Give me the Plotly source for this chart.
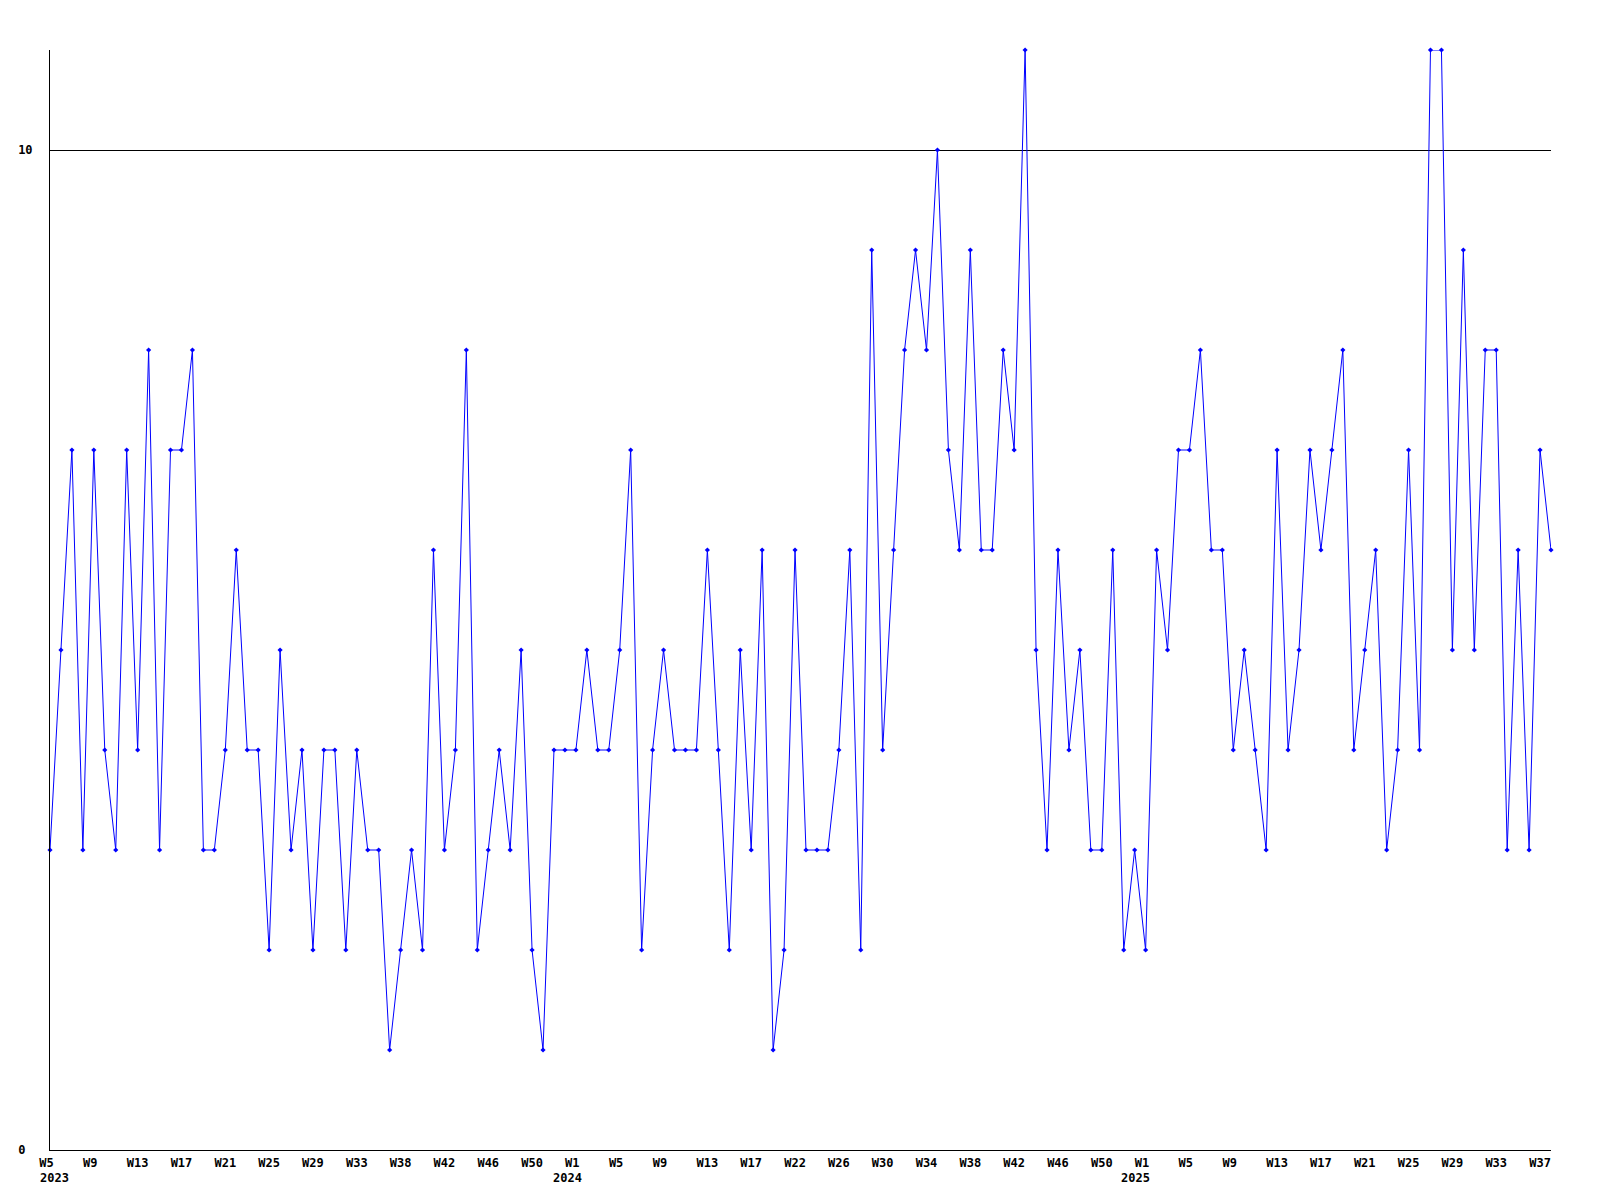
import plotly.graph_objects as go

# Weekly values
values_2023 = [3, 5, 7, 3, 7, 4, 3, 7, 4, 8, 3, 7, 7, 8, 3, 3, 4, 6, 4, 4,
               2, 5, 3, 4, 2, 4, 4, 2, 4, 3, 3, 1, 2, 3, 2, 6, 3, 4, 8, 2,
               3, 4, 3, 5, 2, 1, 4, 4]
values_2024 = [4, 5, 4, 4, 5, 7, 2, 4, 5, 4, 4, 4, 6, 4, 2, 5, 3, 6, 1, 2,
               6, 3, 3, 3, 4, 6, 2, 9, 4, 6, 8, 9, 8, 10, 7, 6, 9, 6, 6, 8,
               7, 11, 5, 3, 6, 4, 5, 3, 3, 6, 2, 3]
values_2025 = [2, 6, 5, 7, 7, 8, 6, 6, 4, 5, 4, 3, 7, 4, 5, 7, 6, 7, 8, 4,
               5, 6, 3, 4, 7, 4, 11, 11, 5, 9, 5, 8, 8, 3, 6, 3, 7, 6]

week_tick_labels = ["W5", "W9", "W13", "W17", "W21", "W25", "W29", "W33", "W38",
                    "W42", "W46", "W50", "W1", "W5", "W9", "W13", "W17", "W22",
                    "W26", "W30", "W34", "W38", "W42", "W46", "W50", "W1", "W5",
                    "W9", "W13", "W17", "W21", "W25", "W29", "W33", "W37"]
tick_step = 4
year_labels = ["2023", "2024", "2025"]
year_tick_index = [0, 12, 25]  # which week tick each year label sits under
year_xshift = [4, -8, -10]

y_tick_values = [0, 10]
y_tick_labels = ["0", "10"]

values = values_2023 + values_2024 + values_2025
xs = list(range(len(values)))

tick_vals = [i * tick_step for i in range(len(week_tick_labels))]
tick_text = [t.ljust(3, "\u00a0") for t in week_tick_labels]
y_text = [t.ljust(2, "\u00a0") for t in y_tick_labels]

FONT = dict(family="DejaVu Sans Mono", size=12, color="black", weight="bold")

fig = go.Figure()
fig.add_trace(go.Scatter(
    x=xs, y=values, mode="lines+markers",
    line=dict(color="#0000ff", width=1),
    marker=dict(symbol="diamond", size=4, color="#0000ff"),
    cliponaxis=False, showlegend=False, hoverinfo="skip",
))

annotations = []
for lab, ti, sh in zip(year_labels, year_tick_index, year_xshift):
    annotations.append(dict(
        x=tick_vals[ti], xref="x", y=0, yref="paper", yanchor="top",
        yshift=-19, xshift=sh, text=lab, showarrow=False, font=FONT,
        xanchor="center",
    ))

fig.update_layout(
    width=1600, height=1200,
    margin=dict(l=50, r=49, t=50, b=50),
    paper_bgcolor="white", plot_bgcolor="white",
    font=FONT,
    annotations=annotations,
    xaxis=dict(
        range=[0, len(values) - 1], tickmode="array", tickvals=tick_vals,
        ticktext=tick_text, showgrid=False, zeroline=False, ticks="",
        showline=True, linecolor="black", linewidth=1,
        tickfont=FONT, ticklabelstandoff=2,
    ),
    yaxis=dict(
        range=[0, 11], tickmode="array", tickvals=y_tick_values,
        ticktext=y_text, showgrid=True, gridcolor="black", gridwidth=1,
        zeroline=False, ticks="", showline=True, linecolor="black",
        linewidth=1, tickfont=FONT, ticklabelstandoff=14,
    ),
)

fig.write_html("out.html", config={"displayModeBar": False},
               post_script="document.body.style.margin='0';")
